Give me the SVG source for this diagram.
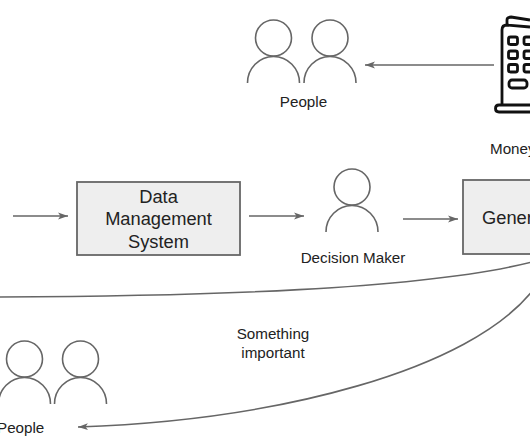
<svg xmlns="http://www.w3.org/2000/svg" width="530" height="442" viewBox="0 0 530 442">
<defs>
<marker id="arrow" markerUnits="userSpaceOnUse" markerWidth="11" markerHeight="8" refX="10" refY="4" orient="auto"><path d="M0 0.500 L10 4 L0 7.500 L2.500 4 Z" fill="#666"/></marker>
<g id="person"><circle cx="0" cy="0" r="18"/><path d="M-26 45 A26 26.500 0 0 1 26 45"/></g>
</defs>
<style>
text{font-family:"Liberation Sans",Arial,sans-serif;fill:#222;font-size:15.200px}
.big{font-size:18.300px}
.c{text-anchor:middle}
.box{fill:#eee;stroke:#666;stroke-width:1.800}
.p{fill:none;stroke:#666;stroke-width:1.600}
.con{fill:none;stroke:#666;stroke-width:1.600}
.b{fill:none;stroke:#111;stroke-width:2.800;stroke-linejoin:round}
</style>
<rect width="530" height="442" fill="#fff"/>
<g id="connectors">
<path class="con" marker-end="url(#arrow)" d="M494 65 L365 65"/>
<path class="con" marker-end="url(#arrow)" d="M13 216 L68 216"/>
<path class="con" marker-end="url(#arrow)" d="M249 216 L304 216"/>
<path class="con" marker-end="url(#arrow)" d="M403 219 L458 219"/>
<path class="con" d="M0 297 C200 296 420 290 532 262"/>
<path class="con" marker-end="url(#arrow)" d="M533 290 C470 370 280 420 78 427"/>
</g>
<g id="people-top"><use href="#person" x="273.500" y="38" class="p"/><use href="#person" x="330" y="38" class="p"/><text class="c" x="303.500" y="107">People</text></g>
<g id="bank">
<path class="b" d="M502 105 V30 Q502 25 507 25 L530 27 M507 25 V20 Q507 17 511 17 L530 20"/>
<path class="b" d="M530 105 H499 Q495.500 105 495.500 108.500 Q495.500 112 499 112 H530"/>
<g class="b"><rect x="508.500" y="37" width="9" height="7.500" rx="2"/><rect x="524" y="37" width="9" height="7.500" rx="2"/><rect x="508.500" y="51" width="9" height="7.500" rx="2"/><rect x="524" y="51" width="9" height="7.500" rx="2"/><rect x="508.500" y="64.500" width="9" height="7.500" rx="2"/><rect x="524" y="64.500" width="9" height="7.500" rx="2"/><rect x="509" y="80" width="18" height="8" rx="3"/></g>
<text x="490" y="154">Money</text>
</g>
<g id="data-management"><rect class="box" x="77" y="182" width="163" height="73"/><text class="big c" x="158.500" y="203">Data</text><text class="big c" x="158.500" y="225">Management</text><text class="big c" x="158.500" y="248">System</text></g>
<g id="decision-maker"><use href="#person" x="352" y="187" class="p"/><text class="c" x="353" y="263">Decision Maker</text></g>
<g id="generator"><rect class="box" x="463" y="180" width="80" height="74"/><text class="big" x="482" y="224">Gener</text></g>
<g id="edge-label"><text class="c" x="273" y="339">Something</text><text class="c" x="273" y="358">important</text></g>
<g id="people-bottom"><use href="#person" x="24.500" y="359" class="p"/><use href="#person" x="80.500" y="359" class="p"/><text x="-3" y="433">People</text></g>
</svg>
